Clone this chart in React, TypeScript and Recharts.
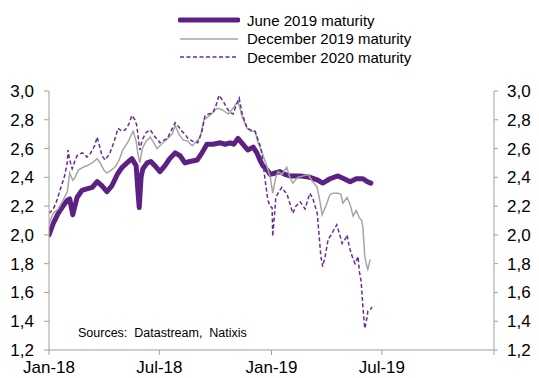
import React from "react"
import {
  LineChart,
  Line,
  XAxis,
  YAxis,
  Legend,
} from "recharts"

// days counted from 1 Jan 2018, yields in %
const june2019: [number, number][] = [
  [0, 2.0], [7, 2.08], [15, 2.15], [23, 2.2], [30, 2.24], [34, 2.25], [39, 2.14],
  [46, 2.26], [54, 2.31], [62, 2.32], [71, 2.33], [79, 2.37], [87, 2.34], [95, 2.3],
  [103, 2.34], [112, 2.42], [120, 2.47], [128, 2.5], [136, 2.53], [143, 2.48],
  [146, 2.3], [148, 2.19], [151, 2.4], [154, 2.46], [161, 2.5], [167, 2.51],
  [176, 2.47], [182, 2.44], [190, 2.48], [198, 2.53], [207, 2.57], [215, 2.55],
  [223, 2.5], [231, 2.51], [243, 2.52], [251, 2.57], [259, 2.63], [269, 2.63],
  [281, 2.64], [289, 2.63], [297, 2.64], [303, 2.63], [310, 2.67], [318, 2.63],
  [326, 2.59], [335, 2.61], [341, 2.57], [346, 2.52], [351, 2.48], [358, 2.45],
  [363, 2.42], [371, 2.43], [379, 2.44], [387, 2.42], [395, 2.41], [412, 2.41],
  [428, 2.4], [441, 2.38], [449, 2.36], [461, 2.39], [474, 2.41], [484, 2.39],
  [494, 2.37], [504, 2.39], [515, 2.39], [522, 2.37], [528, 2.36],
]

const dec2019: [number, number][] = [
  [0, 2.08], [7, 2.15], [15, 2.18], [23, 2.24], [30, 2.3], [34, 2.43], [39, 2.38],
  [43, 2.4], [48, 2.45], [56, 2.47], [62, 2.48], [71, 2.5], [79, 2.53], [84, 2.5],
  [90, 2.45], [95, 2.43], [102, 2.45], [108, 2.47], [115, 2.52], [121, 2.59],
  [130, 2.65], [138, 2.72], [143, 2.65], [146, 2.56], [149, 2.5], [153, 2.6],
  [159, 2.65], [166, 2.68], [172, 2.64], [177, 2.6], [182, 2.62], [187, 2.64],
  [195, 2.67], [202, 2.7], [207, 2.76], [213, 2.7], [220, 2.66], [228, 2.65],
  [235, 2.62], [240, 2.64], [248, 2.68], [254, 2.8], [264, 2.83], [276, 2.88],
  [284, 2.87], [294, 2.84], [302, 2.88], [310, 2.93], [317, 2.82], [325, 2.74],
  [331, 2.72], [338, 2.72], [343, 2.64], [349, 2.58], [358, 2.47], [363, 2.4],
  [367, 2.29], [372, 2.4], [376, 2.44], [382, 2.42], [390, 2.47], [395, 2.4],
  [400, 2.36], [408, 2.4], [417, 2.41], [425, 2.42], [431, 2.38], [440, 2.33],
  [445, 2.22], [448, 2.14], [454, 2.2], [461, 2.28], [466, 2.29], [474, 2.29],
  [479, 2.28], [482, 2.22], [489, 2.26], [494, 2.21], [499, 2.13], [504, 2.17],
  [509, 2.12], [513, 2.1], [515, 2.05], [518, 1.85], [522, 1.77], [523, 1.76],
  [527, 1.83],
]

const dec2020: [number, number][] = [
  [0, 2.15], [7, 2.18], [13, 2.24], [18, 2.31], [25, 2.4], [30, 2.5], [31, 2.59],
  [34, 2.52], [38, 2.46], [43, 2.52], [46, 2.55], [54, 2.57], [59, 2.56], [62, 2.54],
  [67, 2.56], [71, 2.59], [75, 2.62], [79, 2.68], [84, 2.6], [87, 2.55], [92, 2.52],
  [97, 2.55], [100, 2.57], [107, 2.65], [113, 2.74], [120, 2.72], [125, 2.73],
  [131, 2.77], [136, 2.83], [141, 2.8], [144, 2.76], [148, 2.62], [149, 2.59],
  [153, 2.66], [159, 2.71], [166, 2.73], [171, 2.7], [174, 2.68], [179, 2.66],
  [182, 2.64], [189, 2.66], [194, 2.67], [200, 2.72], [207, 2.78], [213, 2.75],
  [218, 2.72], [223, 2.7], [228, 2.67], [236, 2.65], [244, 2.64], [251, 2.72],
  [256, 2.83], [262, 2.84], [269, 2.85], [274, 2.9], [279, 2.97], [284, 2.94],
  [287, 2.92], [292, 2.88], [297, 2.85], [302, 2.84], [307, 2.9], [312, 2.95],
  [317, 2.84], [325, 2.74], [331, 2.73], [338, 2.72], [343, 2.66], [348, 2.6],
  [351, 2.5], [354, 2.4], [359, 2.24], [363, 2.2], [366, 2.19], [367, 1.99],
  [371, 2.2], [372, 2.26], [377, 2.3], [382, 2.33], [387, 2.3], [390, 2.29],
  [395, 2.22], [400, 2.15], [405, 2.2], [412, 2.23], [417, 2.2], [420, 2.18],
  [425, 2.25], [428, 2.29], [433, 2.25], [440, 2.15], [443, 2.0], [446, 1.85],
  [449, 1.78], [453, 1.85], [458, 1.97], [463, 2.0], [468, 2.04], [472, 2.07],
  [477, 2.0], [481, 1.94], [486, 1.97], [489, 2.0], [492, 1.93], [495, 1.88],
  [499, 1.83], [502, 1.8], [507, 1.85], [509, 1.75], [512, 1.68], [515, 1.5],
  [518, 1.35], [522, 1.43], [523, 1.47], [527, 1.48], [530, 1.5],
]

const xTicks = [0, 181, 365, 546, 730]
const xTickLabels = ["Jan-18", "Jul-18", "Jan-19", "Jul-19", ""]
const yTicks = [1.2, 1.4, 1.6, 1.8, 2.0, 2.2, 2.4, 2.6, 2.8, 3.0]

const seriesNames = [
  "June 2019 maturity",
  "December 2019 maturity",
  "December 2020 maturity",
]

const FONT = "'Liberation Sans', Arial, sans-serif"
const AXIS = "#a0a0a0"
const PURPLE = "#5c2182"
const DASH_PURPLE = "#6a2d90"
const GREY = "#a6a6a6"

const toRows = (pts: [number, number][]) => pts.map(([day, value]) => ({ day, value }))

const fmtY = (v: number) => v.toFixed(1).replace(".", ",")
const fmtX = (v: number) => xTickLabels[xTicks.indexOf(v)] ?? ""

function LegendBox() {
  const swatches = [
    { stroke: PURPLE, width: 5, dash: undefined },
    { stroke: GREY, width: 1.5, dash: undefined },
    { stroke: DASH_PURPLE, width: 1.5, dash: "4 2.5" },
  ]
  return (
    <div style={{ fontFamily: FONT, fontSize: 15, color: "#000" }}>
      {seriesNames.map((name, i) => (
        <div key={name} style={{ display: "flex", alignItems: "center", height: 18.5 }}>
          <svg width={62} height={10} style={{ marginRight: 7 }}>
            <line
              x1={2}
              x2={60}
              y1={5}
              y2={5}
              stroke={swatches[i].stroke}
              strokeWidth={swatches[i].width}
              strokeDasharray={swatches[i].dash}
              strokeLinecap={i === 0 ? "round" : "butt"}
            />
          </svg>
          <span style={{ whiteSpace: "nowrap" }}>{name}</span>
        </div>
      ))}
    </div>
  )
}

export default function App() {
  const tickStyle = { fontFamily: FONT, fontSize: 17, fill: "#000" }

  return (
    <div style={{ position: "absolute", left: 0, top: 0, width: 539, height: 378, background: "#fff" }}>
      <LineChart
        width={539}
        height={378}
        margin={{ top: 91, right: 0, bottom: 0, left: 0 }}
      >
        <XAxis
          dataKey="day"
          type="number"
          domain={[0, 730]}
          ticks={xTicks}
          tickFormatter={fmtX}
          interval={0}
          height={28}
          stroke={AXIS}
          tickSize={5}
          tickMargin={6}
          tick={tickStyle}
          allowDataOverflow
        />
        <YAxis
          yAxisId="left"
          domain={[1.2, 3.0]}
          ticks={yTicks}
          tickFormatter={fmtY}
          interval={0}
          width={49}
          stroke={AXIS}
          tickSize={5}
          tickMargin={10}
          tick={tickStyle}
          allowDataOverflow
        />
        <YAxis
          yAxisId="right"
          orientation="right"
          domain={[1.2, 3.0]}
          ticks={yTicks}
          tickFormatter={fmtY}
          interval={0}
          width={45}
          stroke={AXIS}
          tickSize={4}
          tickMargin={9}
          tick={tickStyle}
          allowDataOverflow
        />
        <Legend
          layout="vertical"
          align="center"
          verticalAlign="middle"
          wrapperStyle={{ top: 11, left: 178, width: 280 }}
          content={() => <LegendBox />}
        />
        <Line
          yAxisId="left"
          data={toRows(june2019)}
          dataKey="value"
          name={seriesNames[0]}
          stroke={PURPLE}
          strokeWidth={5}
          strokeLinejoin="round"
          strokeLinecap="round"
          dot={false}
          isAnimationActive={false}
        />
        <Line
          yAxisId="left"
          data={toRows(dec2019)}
          dataKey="value"
          name={seriesNames[1]}
          stroke={GREY}
          strokeWidth={1.5}
          dot={false}
          isAnimationActive={false}
        />
        <Line
          yAxisId="left"
          data={toRows(dec2020)}
          dataKey="value"
          name={seriesNames[2]}
          stroke={DASH_PURPLE}
          strokeWidth={1.5}
          strokeDasharray="4 2.5"
          dot={false}
          isAnimationActive={false}
        />
      </LineChart>
      <div
        style={{
          position: "absolute",
          left: 78,
          top: 326,
          fontFamily: FONT,
          fontSize: 12.5,
          whiteSpace: "pre",
        }}
      >
        {"Sources:  Datastream,  Natixis"}
      </div>
    </div>
  )
}
